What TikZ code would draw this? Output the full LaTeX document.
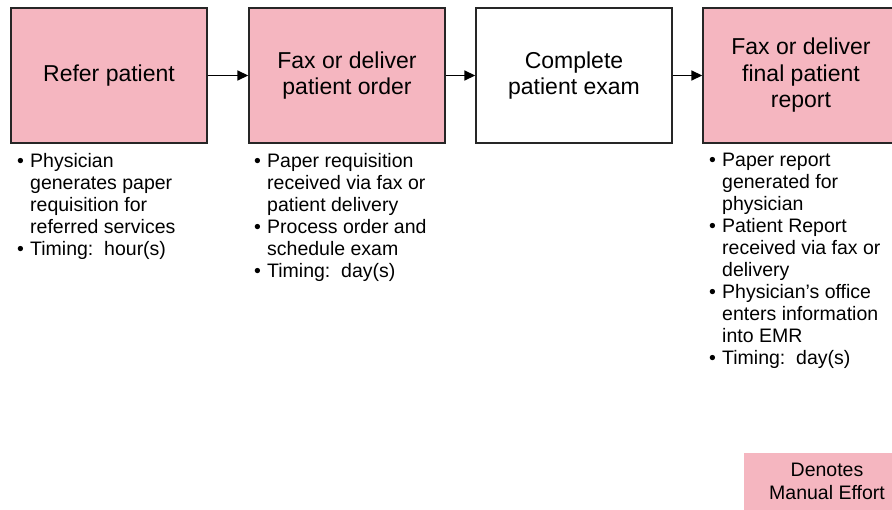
\documentclass[tikz,border=0pt]{standalone}
\usepackage{fontspec}
\setmainfont{Liberation Sans}
\usetikzlibrary{arrows.meta}
\definecolor{manualpink}{RGB}{245,182,192}
\newcommand{\bul}{\makebox[13pt][l]{\textbullet}}
\newcommand{\ind}{\hspace*{13pt}}
\tikzset{
  stepbox/.style={draw=black!85, line width=1.4pt, minimum width=196pt, minimum height=135pt, inner sep=0pt, align=center, font=\fontsize{23}{26.5}\selectfont},
  manual/.style={stepbox, fill=manualpink},
  plain/.style={stepbox, fill=white},
  flow/.style={draw=black, line width=1.6pt, -{Triangle[length=11pt,width=10pt]}},
  notes/.style={anchor=north west, align=left, inner sep=0pt, font=\fontsize{19.5}{22}\selectfont},
}
\begin{document}
\begin{tikzpicture}[x=1pt,y=-1pt]
\useasboundingbox (0,0) rectangle (892,510);
\node[manual] (b1) at (109,75.5) {Refer patient};
\node[manual] (b2) at (347,75.5) {Fax or deliver\\patient order};
\node[plain]  (b3) at (574,75.5) {Complete\\patient exam};
\node[manual] (b4) at (801,75.5) {Fax or deliver\\final patient\\report};
\draw[flow] (b1) -- (b2);
\draw[flow] (b2) -- (b3);
\draw[flow] (b3) -- (b4);
\node[notes] (n1) at (17,153) {\bul Physician\\\ind generates paper\\\ind requisition for\\\ind referred services\\\bul Timing:\ \ hour(s)};
\node[notes] (n2) at (254,153) {\bul Paper requisition\\\ind received via fax or\\\ind patient delivery\\\bul Process order and\\\ind schedule exam\\\bul Timing:\ \ day(s)};
\node[notes] (n4) at (709,153) {\bul Paper report\\\ind generated for\\\ind physician\\\bul Patient Report\\\ind received via fax or\\\ind delivery\\\bul Physician’s office\\\ind enters information\\\ind into EMR\\\bul Timing:\ \ day(s)};
\fill[manualpink] (744,453) rectangle (892,510);
\node[align=center, font=\fontsize{19.5}{23}\selectfont, inner sep=0pt] (leg) at (827,481) {Denotes\\Manual Effort};
\end{tikzpicture}
\end{document}
